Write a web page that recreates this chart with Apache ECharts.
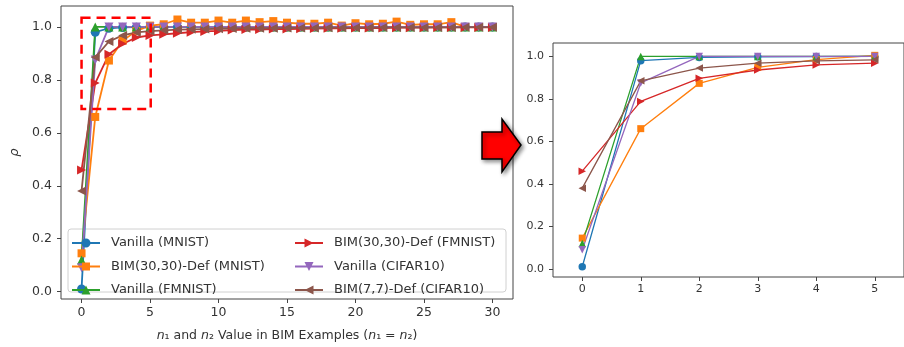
<!DOCTYPE html>
<html>
<head>
<meta charset="utf-8">
<script src="https://cdn.jsdelivr.net/npm/echarts@6/dist/echarts.min.js"></script>
<style>
  html, body { margin: 0; padding: 0; background: #fff; }
  #chart { width: 904px; height: 347px; }
</style>
</head>
<body>
<div id="chart"></div>
<script>
// n1 = n2 values on the x axis
const nValues = [0, 1, 2, 3, 4, 5, 6, 7, 8, 9, 10, 11, 12, 13, 14, 15, 16, 17, 18, 19, 20, 21, 22, 23, 24, 25, 26, 27, 28, 29, 30];

const seriesNames = [
  'Vanilla (MNIST)',
  'BIM(30,30)-Def (MNIST)',
  'Vanilla (FMNIST)',
  'BIM(30,30)-Def (FMNIST)',
  'Vanilla (CIFAR10)',
  'BIM(7,7)-Def (CIFAR10)',
];

const vanillaMnist = [0.01, 0.98, 0.995, 0.998, 0.999, 1.0, 1.0, 1.0, 1.0, 1.0, 1.0, 1.0, 1.0, 1.0, 1.0, 1.0, 1.0, 1.0, 1.0, 1.0, 1.0, 1.0, 1.0, 1.0, 1.0, 1.0, 1.0, 1.0, 1.0, 1.0, 1.0];
const bimDefMnist = [0.145, 0.66, 0.873, 0.948, 0.985, 1.005, 1.01, 1.028, 1.016, 1.016, 1.024, 1.016, 1.024, 1.018, 1.022, 1.016, 1.012, 1.012, 1.016, 1.005, 1.014, 1.01, 1.012, 1.02, 1.008, 1.01, 1.01, 1.018, 1.0, 1.0, 1.0];
const vanillaFmnist = [0.12, 1.0, 1.0, 1.0, 1.0, 1.0, 1.0, 1.0, 1.0, 1.0, 1.0, 1.0, 1.0, 1.0, 1.0, 1.0, 1.0, 1.0, 1.0, 1.0, 1.0, 1.0, 1.0, 1.0, 1.0, 1.0, 1.0, 1.0, 1.0, 1.0, 1.0];
const bimDefFmnist = [0.46, 0.788, 0.897, 0.936, 0.96, 0.968, 0.972, 0.976, 0.98, 0.983, 0.985, 0.988, 0.99, 0.99, 0.992, 0.992, 0.993, 0.994, 0.995, 0.995, 0.996, 0.996, 0.996, 0.997, 0.997, 0.997, 0.998, 0.998, 0.998, 0.998, 0.998];
const vanillaCifar = [0.09, 0.875, 1.0, 1.0, 1.0, 1.0, 1.0, 1.0, 1.0, 1.0, 1.0, 1.0, 1.0, 1.0, 1.0, 1.0, 1.0, 1.0, 1.0, 1.0, 1.0, 1.0, 1.0, 1.0, 1.0, 1.0, 1.0, 1.0, 1.0, 1.0, 1.0];
const bimDefCifar = [0.38, 0.885, 0.945, 0.968, 0.979, 0.984, 0.987, 0.99, 0.991, 0.992, 0.993, 0.994, 0.995, 0.995, 0.995, 0.996, 0.996, 0.996, 0.997, 0.997, 0.997, 0.997, 0.998, 0.998, 0.998, 0.998, 0.998, 0.998, 0.999, 0.999, 0.999];

const allValues = [vanillaMnist, bimDefMnist, vanillaFmnist, bimDefFmnist, vanillaCifar, bimDefCifar];

// tick labels
const rhoTicks = [0, 0.2, 0.4, 0.6, 0.8, 1.0];
const mainXTicks = [0, 5, 10, 15, 20, 25, 30];
const zoomXTicks = [0, 1, 2, 3, 4, 5];
const zoomCount = 6; // points shown in the zoomed panel (n = 0..5)

// dashed box around the zoomed region: [x0, x1, y0, y1]
const zoomBox = [0, 5.05, 0.69, 1.035];

const colors = ['#1f77b4', '#ff7f0e', '#2ca02c', '#d62728', '#9467bd', '#8c564b'];
const symbols = ['circle', 'rect', 'triangle', 'triangle', 'triangle', 'triangle'];
const rotations = [0, 0, 0, -90, 180, 90];

// legend icons: line + marker, drawn in a 28x9 box
const LEG_LINE = 'M0,3.6 L28,3.6 L28,5.4 L0,5.4 Z ';
const legendMarks = [
  'M9.5,4.5 A4.5,4.5 0 1 1 18.5,4.5 A4.5,4.5 0 1 1 9.5,4.5 Z',
  'M10,0.5 L18,0.5 L18,8.5 L10,8.5 Z',
  'M14,0 L18.5,9 L9.5,9 Z',
  'M9.5,0 L18.5,4.5 L9.5,9 Z',
  'M9.5,0 L18.5,0 L14,9 Z',
  'M18.5,0 L18.5,9 L9.5,4.5 Z',
];

const chart = echarts.init(document.getElementById('chart'), null, { renderer: 'canvas' });

const FONT = 'DejaVu Sans';
const TEXT = '#333';
const SPINE = '#444';

function axisCommon(fontSize, ticks, margin) {
  return {
    axisLine: { show: false, onZero: false },
    splitLine: { show: false },
    axisTick: { show: true, length: 4, lineStyle: { color: SPINE }, customValues: ticks },
    axisLabel: {
      color: TEXT, fontFamily: FONT, fontSize: fontSize, margin: margin,
      customValues: ticks,
      formatter: v => v,
    },
  };
}

const series = [];
allValues.forEach((vals, i) => {
  const main = {
    name: seriesNames[i],
    type: 'line',
    xAxisIndex: 0,
    yAxisIndex: 0,
    data: nValues.map((n, k) => [n, vals[k]]),
    symbol: symbols[i],
    symbolRotate: rotations[i],
    symbolSize: symbols[i] === 'rect' ? 8 : 9,
    showAllSymbol: true,
    color: colors[i],
    lineStyle: { width: 1.8, color: colors[i] },
    itemStyle: { color: colors[i] },
    animation: false,
  };
  if (i === 0) {
    main.markArea = {
      silent: true,
      z: 10,
      itemStyle: {
        color: 'rgba(0,0,0,0)',
        borderColor: '#ff0000',
        borderWidth: 2.5,
        borderType: [9, 6],
      },
      data: [[{ coord: [zoomBox[0], zoomBox[3]] }, { coord: [zoomBox[1], zoomBox[2]] }]],
    };
  }
  series.push(main);
  series.push({
    name: seriesNames[i],
    type: 'line',
    xAxisIndex: 1,
    yAxisIndex: 1,
    data: nValues.slice(0, zoomCount).map((n, k) => [n, vals[k]]),
    symbol: symbols[i],
    symbolRotate: rotations[i],
    symbolSize: symbols[i] === 'rect' ? 7 : 7.5,
    color: colors[i],
    lineStyle: { width: 1.3, color: colors[i] },
    itemStyle: { color: colors[i] },
    animation: false,
  });
});

const legendCommon = {
  orient: 'vertical',
  padding: 0,
  itemWidth: 28,
  itemHeight: 9,
  itemGap: 10.5,
  symbolRotate: 0,
  selectedMode: false,
  textStyle: { fontFamily: FONT, fontSize: 13, color: TEXT, padding: [0, 0, 0, 6] },
};

function legendData(from, to) {
  return seriesNames.slice(from, to).map((name, k) => ({
    name: name,
    icon: 'path://' + LEG_LINE + legendMarks[from + k],
  }));
}

const option = {
  backgroundColor: '#fff',
  animation: false,
  grid: [
    { left: 61, top: 6, width: 452, height: 293, show: true, borderColor: SPINE, borderWidth: 1, backgroundColor: '#fff' },
    { left: 553, top: 43, width: 360, height: 234, show: true, borderColor: SPINE, borderWidth: 1, backgroundColor: '#fff' },
  ],
  xAxis: [
    Object.assign(axisCommon(12.5, mainXTicks, 7), {
      type: 'value', gridIndex: 0, min: -1.5, max: 31.5,
      name: '{it|n}₁ and {it|n}₂ Value in BIM Examples ({it|n}₁ = {it|n}₂)',
      nameLocation: 'middle',
      nameGap: 30,
      nameTextStyle: {
        fontFamily: FONT, fontSize: 12.5, color: TEXT,
        rich: { it: { fontFamily: FONT, fontSize: 12.5, fontStyle: 'italic', color: TEXT } },
      },
    }),
    Object.assign(axisCommon(11, zoomXTicks, 7), {
      type: 'value', gridIndex: 1, min: -0.5, max: 5.5,
    }),
  ],
  yAxis: [
    Object.assign(axisCommon(12.5, rhoTicks, 9), {
      type: 'value', gridIndex: 0, min: -0.0276, max: 1.079,
      name: 'ρ',
      nameLocation: 'middle',
      nameGap: 40,
      nameRotate: 90,
      nameTextStyle: { fontFamily: FONT, fontSize: 13, fontStyle: 'italic', color: TEXT },
    }),
    Object.assign(axisCommon(11, rhoTicks, 9), {
      type: 'value', gridIndex: 1, min: -0.038, max: 1.063,
    }),
  ],
  legend: [
    Object.assign({ left: 72, top: 236.5, data: legendData(0, 3) }, legendCommon),
    Object.assign({ left: 295, top: 236.5, data: legendData(3, 6) }, legendCommon),
  ],
  graphic: [
    {
      type: 'rect',
      z: 3,
      silent: true,
      shape: { x: 68, y: 229, width: 438, height: 63, r: 3 },
      style: { fill: 'rgba(255,255,255,0.85)', stroke: '#d0d0d0', lineWidth: 1 },
    },
    {
      type: 'polygon',
      z: 5,
      silent: true,
      shape: { points: [[482, 132], [502, 132], [502, 119], [521, 145], [502, 172], [502, 159], [482, 159]] },
      style: {
        fill: '#ff0000', stroke: '#000', lineWidth: 1.5,
        shadowBlur: 4, shadowColor: 'rgba(0,0,0,0.45)', shadowOffsetX: 2, shadowOffsetY: 2,
      },
    },
  ],
  series: series,
};

// tick labels shown as 0.0 ... 1.0
option.yAxis[0].axisLabel.formatter = v => v.toFixed(1);
option.yAxis[1].axisLabel.formatter = v => v.toFixed(1);

chart.setOption(option);
</script>
</body>
</html>
